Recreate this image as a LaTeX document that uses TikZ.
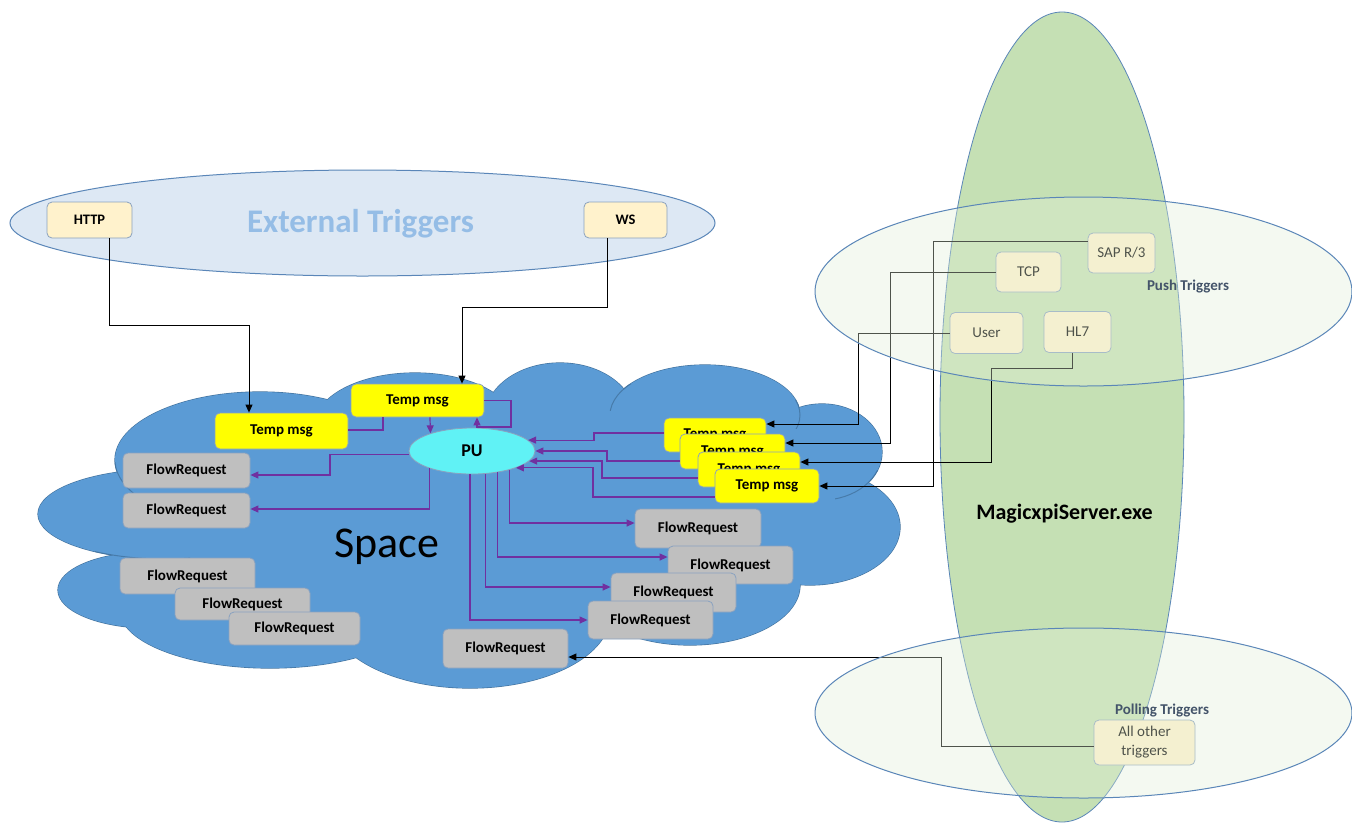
\documentclass[tikz,border=0pt]{standalone}
\usepackage{fontspec}
\setmainfont{Carlito}
\usetikzlibrary{arrows.meta,calc,shapes.geometric}
\definecolor{cloudfill}{HTML}{5B9BD5}
\definecolor{cloudedge}{HTML}{41719C}
\definecolor{extfill}{HTML}{DDE8F4}
\definecolor{elledge}{HTML}{5A86B8}
\definecolor{exttext}{HTML}{95BDE6}
\definecolor{cream}{HTML}{FFF2CC}
\definecolor{boxedge}{HTML}{8AA2BF}
\definecolor{tmpyellow}{HTML}{FFFF00}
\definecolor{flowgrey}{HTML}{BFBFBF}
\definecolor{puc}{HTML}{60F2F5}
\definecolor{purp}{HTML}{7030A0}
\definecolor{srvgreen}{HTML}{C5E0B4}
\definecolor{overlaygreen}{HTML}{E2EFD9}
\definecolor{slate}{HTML}{44546A}
\newcommand{\myfs}[1]{\fontsize{#1}{#1}\selectfont}
\begin{document}
\begin{tikzpicture}[x=1pt,y=-1pt,
 rbox/.style={draw=boxedge, line width=0.8pt, rounded corners=5pt, inner sep=0pt, align=center},
 trig/.style={rbox, fill=cream, font=\myfs{14.5}\bfseries},
 tmpbox/.style={rbox, fill=tmpyellow, font=\myfs{15}\bfseries},
 flowbox/.style={rbox, fill=flowgrey, font=\myfs{15}\bfseries},
 ptrig/.style={rbox, fill=cream, font=\myfs{15}},
 parrow/.style={draw=purp, line width=1.2pt, -{Triangle[length=8pt,width=7pt]}},
 pline/.style={draw=purp, line width=1.2pt},
 barrow/.style={draw=black, line width=0.9pt, -{Triangle[length=8pt,width=7pt]}},
 innerarc/.style={draw=cloudedge, line width=1pt, draw opacity=0.75},
]
\useasboundingbox (0,0) rectangle (1352,823);
\fill[white] (0,0) rectangle (1352,823);

% External triggers
\draw[elledge, line width=1pt, fill=extfill] (362.5,223) ellipse [x radius=352.5pt, y radius=53pt];
\node[font=\myfs{33}\bfseries, text=exttext, anchor=base] (exttitle) at (360.5,232) {External Triggers};
\node[trig, minimum width=85pt, minimum height=36pt] (http) at (89.5,220) {HTTP};
\node[trig, minimum width=83pt, minimum height=36pt] (ws) at (625.5,220) {WS};

% server ellipse
\draw[elledge, line width=0.8pt, fill=srvgreen] (1062,417) ellipse [x radius=122pt, y radius=405pt];

% cloud
\foreach \cx/\cy/\rx/\ry in {260/460/145pt/68pt, 165/514/127pt/45pt, 150/590/92pt/38pt,
  270/610/150pt/58pt, 470/615/140pt/73pt, 690/585/110pt/60pt, 810/527/90pt/58pt,
  822/452/60pt/48pt, 705/415/95pt/50pt, 560/418/75pt/55pt, 415/425/100pt/52pt}
  \draw[cloudedge, line width=1.2pt] (\cx,\cy) ellipse [x radius=\rx, y radius=\ry];
\foreach \cx/\cy/\rx/\ry in {260/460/145pt/68pt, 165/514/127pt/45pt, 150/590/92pt/38pt,
  270/610/150pt/58pt, 470/615/140pt/73pt, 690/585/110pt/60pt, 810/527/90pt/58pt,
  822/452/60pt/48pt, 705/415/95pt/50pt, 560/418/75pt/55pt, 415/425/100pt/52pt,
  480/510/320pt/110pt}
  \fill[cloudfill] (\cx,\cy) ellipse [x radius=\rx, y radius=\ry];
% faint inner arcs of the cloud lobes
\begin{scope}
  \clip (108,462) rectangle (135,492);
  \draw[innerarc] (260,460) ellipse [x radius=145pt, y radius=68pt];
\end{scope}
\begin{scope}
  \clip (95,540) rectangle (190,565);
  \draw[innerarc] (165,514) ellipse [x radius=127pt, y radius=45pt];
\end{scope}
\begin{scope}
  \clip (606,384) rectangle (632,410);
  \draw[innerarc] (705,415) ellipse [x radius=95pt, y radius=50pt];
\end{scope}
\begin{scope}
  \clip (792,400) rectangle (812,428);
  \draw[innerarc] (705,415) ellipse [x radius=95pt, y radius=50pt];
\end{scope}
\begin{scope}
  \clip (835,470) rectangle (878,505);
  \draw[innerarc] (822,452) ellipse [x radius=60pt, y radius=48pt];
\end{scope}
\node[font=\myfs{44}, anchor=base] (space) at (387,557) {Space};

% temp msgs
\node[tmpbox, minimum width=133pt, minimum height=36pt] (t1) at (281.5,431) {Temp msg};
\node[tmpbox, minimum width=133pt, minimum height=33pt] (t2) at (417.5,400.5) {Temp msg};
\node[tmpbox, minimum width=102pt, minimum height=34pt] (r1) at (715,435) {Temp msg};
\node[tmpbox, minimum width=105pt, minimum height=35pt] (r2) at (732.5,451.5) {Temp msg};
\node[tmpbox, minimum width=102pt, minimum height=35pt] (r3) at (749,469.5) {Temp msg};
\node[tmpbox, minimum width=104pt, minimum height=34pt] (r4) at (767,486) {Temp msg};

% PU
\node[ellipse, draw=boxedge, line width=0.8pt, fill=puc, minimum width=126pt, minimum height=46pt,
  inner sep=0pt, font=\myfs{18}\bfseries] (pu) at (472,451) {PU};

% flow requests
\node[flowbox, minimum width=127pt, minimum height=35pt] (f1) at (186.5,470.5) {FlowRequest};
\node[flowbox, minimum width=127pt, minimum height=35pt] (f2) at (186.5,510.5) {FlowRequest};
\node[flowbox, minimum width=135pt, minimum height=36pt] (f3) at (187.5,576) {FlowRequest};
\node[flowbox, minimum width=135pt, minimum height=32pt] (f4) at (242.5,604) {FlowRequest};
\node[flowbox, minimum width=131pt, minimum height=33pt] (f5) at (294.5,628.5) {FlowRequest};
\node[flowbox, minimum width=126pt, minimum height=39pt] (f6) at (698,528.5) {FlowRequest};
\node[flowbox, minimum width=125pt, minimum height=38pt] (f7) at (730.5,565) {FlowRequest};
\node[flowbox, minimum width=125pt, minimum height=39pt] (f8) at (673.5,592.5) {FlowRequest};
\node[flowbox, minimum width=125pt, minimum height=38pt] (f9) at (650.5,620) {FlowRequest};
\node[flowbox, minimum width=125pt, minimum height=39pt] (f10) at (505.5,648.5) {FlowRequest};

% push / poll trigger boxes
\node[ptrig, minimum width=67pt, minimum height=40pt] (sap) at (1121.5,253) {SAP R/3};
\node[ptrig, minimum width=65pt, minimum height=40pt] (tcp) at (1028.5,272) {TCP};
\node[ptrig, minimum width=73pt, minimum height=41pt] (user) at (986.5,333) {User};
\node[ptrig, minimum width=67pt, minimum height=41pt] (hl7) at (1077.5,332) {HL7};
\node[ptrig, minimum width=101pt, minimum height=45pt, font=\fontsize{15}{19}\selectfont] (allo) at (1144.5,742.5) {All other\\triggers};

% purple connectors
\draw[pline] (t1.east |- 0,430) -| (t2.south -| 383,0);
\draw[parrow] (t2.south -| 430,0) -- (pu.157.8);
\draw[parrow] (t2.east) -| (511,427) -| (t2.south -| 477,0);
\draw[parrow] (pu.183.7) -| (330,475) -- (f1.east |- 0,475);
\draw[parrow] (pu.202.2) |- (f2.east |- 0,509);
\draw[parrow] (pu.-27.7) |- (f6.west |- 0,523);
\draw[parrow] (pu.-40.2) |- (f7.west |- 0,557);
\draw[parrow] (pu.-60) |- (f8.west |- 0,587);
\draw[parrow] (pu.-95) |- (f9.west |- 0,620);
\draw[parrow] (r1.west |- 0,433) -| (594,0 |- pu.11.2) -- (pu.11.2);
\draw[parrow] (r2.west |- 0,461) -| (607,0 |- pu.-0.9) -- (pu.-0.9);
\draw[parrow] (r3.west |- 0,478) -| (602,0 |- pu.-10) -- (pu.-10);
\draw[parrow] (r4.west |- 0,497) -| (593,0 |- pu.-21.8) -- (pu.-21.8);

% black connectors
\draw[barrow] ([xshift=19.5pt]http.south) |- (249,325) -- (t1.north -| 249,0);
\draw[barrow] ([xshift=-18.5pt]ws.south) |- (462,307) -- (t2.north -| 462,0);
\draw[barrow] (user.west) -| (858,424) -- (r1.east |- 0,424);
\draw[barrow] (tcp.west) -| (890,443) -- (r2.east |- 0,443);
\draw[barrow] ([xshift=-5.5pt]hl7.south) |- (991,368) |- (r3.east |- 0,462);
\draw[barrow] ([yshift=12pt]sap.west) -| (933,486) -- (r4.east);
\draw[barrow] ([yshift=-4pt]allo.west) -| (941,657) -- (f10.east |- 0,657);

% overlays
\fill[overlaygreen, fill opacity=0.35] (1083.5,291.5) ellipse [x radius=268.5pt, y radius=94.5pt];
\draw[elledge, line width=1pt] (1083.5,291.5) ellipse [x radius=268.5pt, y radius=94.5pt];
\fill[overlaygreen, fill opacity=0.35] (1083.5,713) ellipse [x radius=268.5pt, y radius=85pt];
\draw[elledge, line width=1pt] (1083.5,713) ellipse [x radius=268.5pt, y radius=85pt];

% labels
\node[font=\myfs{15}\bfseries, text=slate, anchor=base] (pushlbl) at (1188,290) {Push Triggers};
\node[font=\myfs{15}\bfseries, text=slate, anchor=base] (polllbl) at (1162,714) {Polling Triggers};
\node[font=\myfs{22}\bfseries, anchor=base] (server) at (1064.5,519) {MagicxpiServer.exe};
\end{tikzpicture}
\end{document}
